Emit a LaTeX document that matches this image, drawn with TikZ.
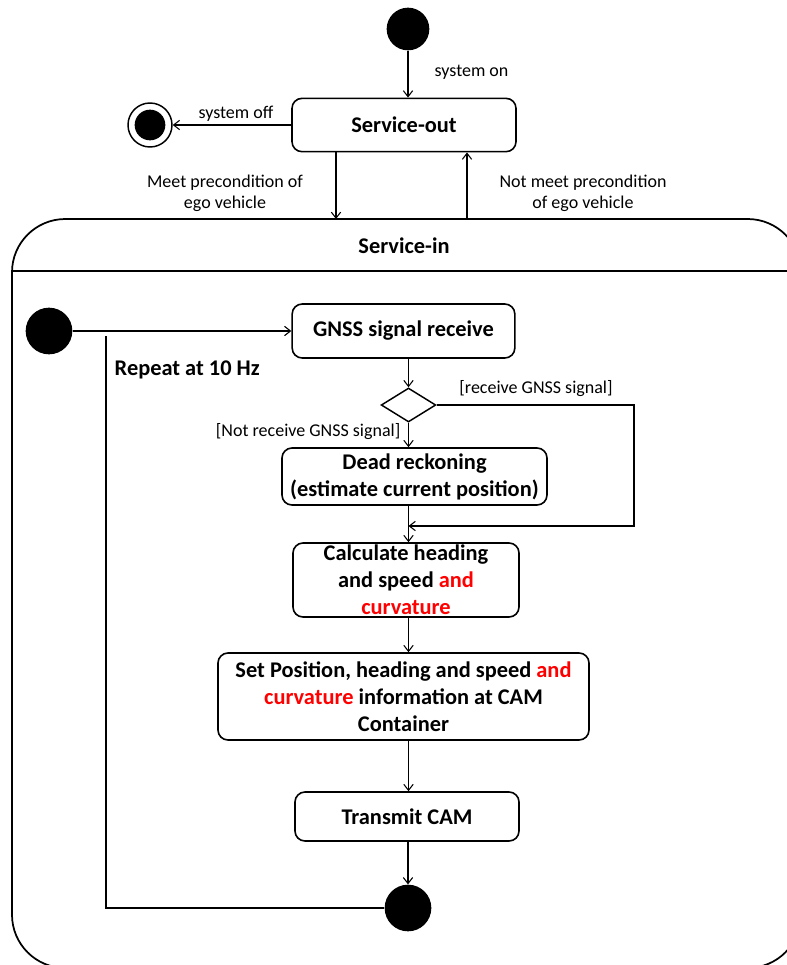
\documentclass[tikz,border=0pt]{standalone}
\usepackage{fontspec}
\setmainfont{Carlito}
\usetikzlibrary{shapes.geometric,arrows.meta}

\newcommand{\guardfont}{\fontsize{13.5}{15.75}\selectfont}
\newcommand{\boxfont}{\fontsize{16.8}{20.4}\selectfont\bfseries}

\begin{document}
\begin{tikzpicture}[x=0.75pt,y=-0.75pt,
  state_box/.style={draw,line width=1.2pt,rounded corners=7.5pt,align=center,inner sep=0pt,font=\boxfont},
  start_dot/.style={circle,fill=black,inner sep=0pt},
  end_dot/.style={circle,draw,line width=1.1pt,minimum size=33pt,inner sep=0pt,
    path picture={\fill (path picture bounding box.center) circle (11.5pt);}},
  decision/.style={diamond,draw,line width=1.1pt,minimum width=41pt,minimum height=25.5pt,inner sep=0pt},
  container/.style={draw,line width=1.3pt,rounded corners=40pt},
  guard/.style={font=\guardfont,align=center},
  flow/.style={line width=0.8pt,-{Straight Barb[length=4.5pt,width=7pt]}}]
\useasboundingbox (0,0) rectangle (787,965);
\clip (0,0) rectangle (787,965);

\colorlet{added_text}{red}

% outer states
\node[start_dot,minimum size=32pt] (on) at (408,29) {};
\node[state_box,minimum width=168pt,minimum height=40pt] (out) at (404,125) {Service-out};
\node[end_dot] (off) at (150,125) {};
\draw[flow] (on.south) -- (out.north -| on);
\node[guard,anchor=west] (on_lbl) at (430,72) {system on};
\draw[flow] (out.west) -- (off);
\node[guard] (off_lbl) at (236,114) {system off};

% Service-in frame (runs past the right and bottom edges)
\draw[container] (12,219) rectangle (801,968);
\coordinate (in_top) at (0,219);
\node[font=\boxfont] (in_title) at (404,246) {Service-in};
\draw[line width=1.2pt] (12,271) -- (801,271);

\coordinate (meet) at (336,0);
\coordinate (not_meet) at (467,0);
\draw[flow] (out.south -| meet) -- (in_top -| meet);
\draw[flow] (in_top -| not_meet) -- (out.south -| not_meet);
\node[guard] (meet_lbl) at (225,193) {Meet precondition of\\ego vehicle};
\node[guard] (not_meet_lbl) at (583,193) {Not meet precondition\\of ego vehicle};

% inside Service-in
\node[start_dot,minimum size=35pt] (loop_start) at (49,331) {};
\node[state_box,minimum width=167pt,minimum height=40.5pt] (gnss) at (403.5,331) {GNSS signal receive};
\draw[flow] (loop_start) -- (gnss);
\node[font=\boxfont,anchor=west] (rate) at (110,370) {Repeat at 10 Hz};

\node[decision] (dec) at (408.5,405) {};
\draw[flow] (gnss.south -| dec) -- (dec.north);
\node[guard] (yes_gnss) at (536,389) {[receive GNSS signal]};
\node[guard,anchor=east] (no_gnss) at (405,432) {[Not receive GNSS signal]};

\node[state_box,minimum width=198.75pt,minimum height=42.75pt] (dead) at (414.5,476.5) {Dead reckoning\\(estimate current position)};
\draw[flow] (dec.south) -- (dead.north -| dec);

\coordinate (bypass) at (634,0);
\coordinate (merge) at (408.5,526);
\draw[flow] (dec.east) -| (bypass |- merge) -- (merge);

\node[state_box,minimum width=169.5pt,minimum height=55.5pt] (calc) at (406,580) {Calculate heading\\and speed \textcolor{added_text}{and}\\\textcolor{added_text}{curvature}};
\draw[flow] (dead.south -| merge) -- (calc.north -| merge);

\node[state_box,minimum width=278.25pt,minimum height=65.25pt] (set) at (403.5,696.5) {Set Position, heading and speed \textcolor{added_text}{and}\\\textcolor{added_text}{curvature} information at CAM\\Container};
\draw[flow] (calc.south -| merge) -- (set.north -| merge);

\node[state_box,minimum width=168pt,minimum height=36.75pt] (send) at (407,816.5) {Transmit CAM};
\draw[flow] (set.south -| merge) -- (send.north -| merge);

\node[start_dot,minimum size=35pt] (stop) at (408,908) {};
\draw[flow] (send.south -| stop) -- (stop.north);

\coordinate (loop_top) at (106,336);
\draw[line width=0.9pt] (loop_top) |- (stop.west);

\end{tikzpicture}
\end{document}
